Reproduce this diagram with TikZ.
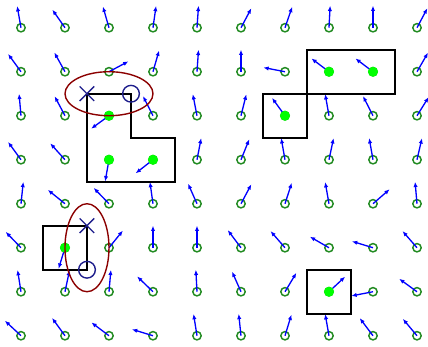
\documentclass[tikz,border=0pt]{standalone}
\usetikzlibrary{arrows.meta}
\definecolor{verdeosc}{RGB}{34,139,34}
\definecolor{azulosc}{RGB}{30,30,140}
\definecolor{rojoosc}{RGB}{139,0,0}
\begin{document}
\begin{tikzpicture}[x=1cm, y=-1cm,
    flecha/.style={-{Latex[length=3.4pt,width=2.8pt]}, blue, line width=0.85pt},
    anillo/.style={draw=verdeosc, line width=0.95pt},
    lleno/.style={fill=green},
    borde/.style={draw=black, line width=1.1pt},
    elipse/.style={draw=rojoosc, line width=0.9pt},
    marca/.style={draw=azulosc, line width=0.9pt}]
    % Marco del dibujo
    \useasboundingbox (-0.477,-0.63) rectangle (9.25,7.234);
    \clip (-0.477,-0.63) rectangle (9.25,7.234);

    % Circulos y flechas de la rejilla (una fila por lista)
    \foreach \angulos [count=\fila from 0] in {
        {100,125,106,82,86,62,71,87,90,62},
        {126,119,28,74,86,90,169,143,143,60},
        {95,118,216,117,101,76,126,100,117,58},
        {126,132,260,218,79,68,100,78,100,77},
        {84,141,134,98,114,62,72,100,41,95},
        {134,253,51,90,90,127,131,150,163,131},
        {99,78,85,136,93,114,59,43,191,144},
        {137,126,143,163,99,96,73,100,127,130}} {
        \foreach \ang [count=\col from 0] in \angulos {
            \draw[anillo] (\col,\fila) circle (0.095);
            \draw[flecha] (\col,\fila) -- ++(\ang:0.5cm);
        }
    }

    % Puntos verdes rellenos
    \foreach \p in {(7,1),(8,1),(2,2),(6,2),(2,3),(3,3),(1,5),(7,6)}
        \fill[lleno] \p circle (0.115);

    % Regiones
    \draw[borde] (1.5,1.5) -- (2.5,1.5) -- (2.5,2.5) -- (3.5,2.5) -- (3.5,3.5) -- (1.5,3.5) -- cycle;
    \draw[borde] (6.5,0.5) rectangle (8.5,1.5);
    \draw[borde] (5.5,1.5) rectangle (6.5,2.5);
    \draw[borde] (0.5,4.5) rectangle (1.5,5.5);
    \draw[borde] (6.5,5.5) rectangle (7.5,6.5);

    % Elipses
    \draw[elipse] (2,1.5) ellipse (1 and 0.5);
    \draw[elipse] (1.5,5) ellipse (0.5 and 1);

    % Cruces y circulos azules
    \draw[marca] (1.5,1.5) +(-0.165,-0.165) -- +(0.165,0.165) +(-0.165,0.165) -- +(0.165,-0.165);
    \draw[marca] (2.5,1.5) circle (0.19);
    \draw[marca] (1.5,4.5) +(-0.165,-0.165) -- +(0.165,0.165) +(-0.165,0.165) -- +(0.165,-0.165);
    \draw[marca] (1.5,5.5) circle (0.19);
\end{tikzpicture}
\end{document}
